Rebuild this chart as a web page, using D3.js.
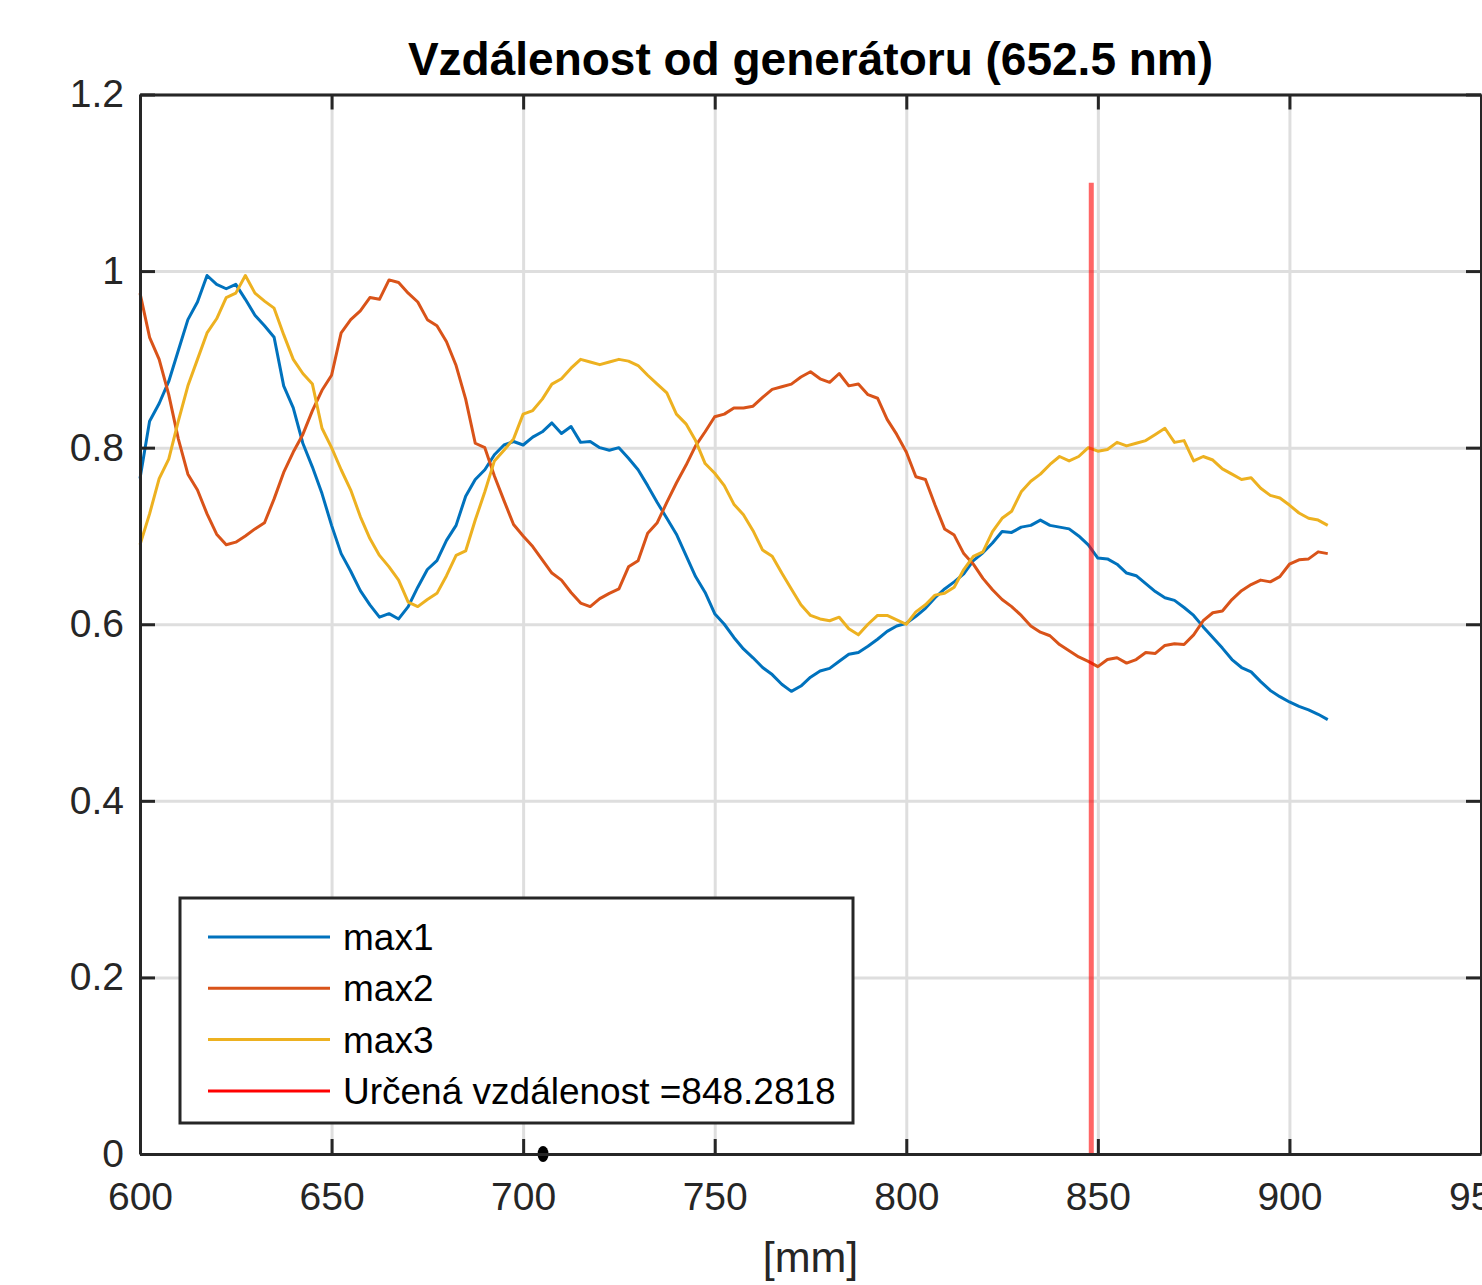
<!DOCTYPE html>
<html>
<head>
<meta charset="utf-8">
<script src="https://cdn.jsdelivr.net/npm/d3@7"></script>
<style>
  html, body { margin: 0; padding: 0; background: #fff; }
  svg { display: block; font-family: "Liberation Sans", Arial, sans-serif; }
</style>
</head>
<body>
<div id="chart"></div>
<script>

// --------------------------------------
//  Data
// --------------------------------------

// distance from the generator [mm], one sample every 2.5 mm
const distance = [
  600, 602.5, 605, 607.5, 610, 612.5, 615, 617.5, 620, 622.5,
  625, 627.5, 630, 632.5, 635, 637.5, 640, 642.5, 645, 647.5,
  650, 652.5, 655, 657.5, 660, 662.5, 665, 667.5, 670, 672.5,
  675, 677.5, 680, 682.5, 685, 687.5, 690, 692.5, 695, 697.5,
  700, 702.5, 705, 707.5, 710, 712.5, 715, 717.5, 720, 722.5,
  725, 727.5, 730, 732.5, 735, 737.5, 740, 742.5, 745, 747.5,
  750, 752.5, 755, 757.5, 760, 762.5, 765, 767.5, 770, 772.5,
  775, 777.5, 780, 782.5, 785, 787.5, 790, 792.5, 795, 797.5,
  800, 802.5, 805, 807.5, 810, 812.5, 815, 817.5, 820, 822.5,
  825, 827.5, 830, 832.5, 835, 837.5, 840, 842.5, 845, 847.5,
  850, 852.5, 855, 857.5, 860, 862.5, 865, 867.5, 870, 872.5,
  875, 877.5, 880, 882.5, 885, 887.5, 890, 892.5, 895, 897.5,
  900, 902.5, 905, 907.5, 910
];

const max1 = [
  0.765, 0.83, 0.85, 0.875, 0.91, 0.945, 0.965, 0.995, 0.985, 0.98,
  0.985, 0.968, 0.95, 0.938, 0.925, 0.87, 0.845, 0.805, 0.778, 0.748,
  0.712, 0.68, 0.66, 0.638, 0.622, 0.608, 0.612, 0.606, 0.62, 0.642,
  0.662, 0.672, 0.695, 0.712, 0.745, 0.764, 0.775, 0.792, 0.803, 0.807,
  0.803, 0.812, 0.818, 0.828, 0.816, 0.824, 0.806, 0.807, 0.8, 0.797,
  0.8, 0.788, 0.775, 0.757, 0.738, 0.72, 0.702, 0.678, 0.654, 0.636,
  0.612, 0.6, 0.585, 0.572, 0.562, 0.551, 0.543, 0.532, 0.524, 0.53,
  0.54, 0.547, 0.55, 0.558, 0.566, 0.568, 0.575, 0.583, 0.592, 0.598,
  0.601, 0.609, 0.618, 0.63, 0.64, 0.648, 0.657, 0.672, 0.681, 0.692,
  0.705, 0.704, 0.71, 0.712, 0.718, 0.712, 0.71, 0.708, 0.7, 0.69,
  0.675, 0.674, 0.668, 0.658, 0.655, 0.646, 0.637, 0.63, 0.627, 0.619,
  0.61, 0.597, 0.585, 0.573, 0.56, 0.551, 0.546, 0.535, 0.525, 0.518,
  0.512, 0.507, 0.503, 0.498, 0.492
];

const max2 = [
  0.975, 0.925, 0.9, 0.86, 0.81, 0.77, 0.752, 0.725, 0.702, 0.69,
  0.693, 0.7, 0.708, 0.715, 0.742, 0.772, 0.795, 0.815, 0.842, 0.865,
  0.882, 0.93, 0.945, 0.955, 0.97, 0.968, 0.99, 0.987, 0.975, 0.965,
  0.945, 0.938, 0.92, 0.893, 0.855, 0.805, 0.8, 0.768, 0.74, 0.713,
  0.7, 0.688, 0.673, 0.658, 0.65, 0.636, 0.624, 0.62, 0.629, 0.635,
  0.64, 0.665, 0.672, 0.703, 0.715, 0.738, 0.76, 0.78, 0.802, 0.818,
  0.835, 0.838, 0.845, 0.845, 0.847, 0.857, 0.866, 0.869, 0.872, 0.88,
  0.886, 0.878, 0.874, 0.884, 0.87, 0.872, 0.86, 0.856, 0.832, 0.815,
  0.795, 0.767, 0.764, 0.735, 0.708, 0.701, 0.68, 0.668, 0.652, 0.639,
  0.628, 0.62, 0.61, 0.598, 0.591, 0.587, 0.577, 0.57, 0.563, 0.558,
  0.552, 0.56, 0.562, 0.556, 0.56, 0.568, 0.567, 0.576, 0.578, 0.577,
  0.588, 0.604, 0.613, 0.615, 0.628, 0.638, 0.645, 0.65, 0.648, 0.654,
  0.668, 0.673, 0.674, 0.682, 0.68
];

const max3 = [
  0.69, 0.725, 0.765, 0.787, 0.83, 0.87, 0.9, 0.93, 0.946, 0.97,
  0.975, 0.995, 0.975, 0.966, 0.958, 0.928, 0.9, 0.884, 0.872, 0.822,
  0.8, 0.775, 0.752, 0.722, 0.697, 0.678, 0.665, 0.65, 0.625, 0.62,
  0.628, 0.635, 0.655, 0.678, 0.683, 0.718, 0.75, 0.785, 0.797, 0.81,
  0.838, 0.842, 0.855, 0.872, 0.878, 0.89, 0.9, 0.897, 0.894, 0.897,
  0.9, 0.898, 0.893, 0.882, 0.872, 0.862, 0.838, 0.827, 0.808, 0.782,
  0.771, 0.757, 0.736, 0.724, 0.706, 0.684, 0.677, 0.658, 0.64, 0.622,
  0.61, 0.606, 0.604, 0.608, 0.595, 0.588, 0.6, 0.61, 0.61, 0.605,
  0.6, 0.614, 0.622, 0.633, 0.635, 0.642, 0.662, 0.677, 0.682, 0.705,
  0.72, 0.728, 0.75, 0.762, 0.77, 0.781, 0.79, 0.785, 0.79, 0.8,
  0.796, 0.798, 0.806, 0.802, 0.805, 0.808, 0.815, 0.822, 0.806, 0.808,
  0.785, 0.79, 0.786, 0.776, 0.77, 0.764, 0.766, 0.754, 0.746, 0.743,
  0.735, 0.726, 0.72, 0.718, 0.712
];

// determined distance (red vertical line) and its height
const foundDistance = 848.2818;
const foundLine = [0, 1.1];

// the small black marker sitting on the x axis
const markerX = [705.2];
const markerY = [0];

const seriesNames = ["max1", "max2", "max3"];
const seriesValues = [max1, max2, max3];
const seriesColors = ["#0072BD", "#D95319", "#EDB120"];

const xTicks = [600, 650, 700, 750, 800, 850, 900, 950];
const yTicks = [0, 0.2, 0.4, 0.6, 0.8, 1, 1.2];

const legendLabels = ["max1", "max2", "max3", "Určená vzdálenost =" + foundDistance];
const legendColors = ["#0072BD", "#D95319", "#EDB120", "#FF0000"];

// --------------------------------------
//  Margin and canvas
// --------------------------------------

const margin = {top: 94.5, right: 1, bottom: 131, left: 140};
const width = 1482;
const height = 1285;
const innerWidth = width - margin.left - margin.right;
const innerHeight = height - margin.top - margin.bottom;

const axisColor = "#262626";

const svg = d3.select("#chart")
  .append("svg")
    .attr("width", width)
    .attr("height", height)
    .attr("viewBox", `0, 0, ${width}, ${height}`);

svg.append("rect")
    .attr("width", width)
    .attr("height", height)
    .attr("fill", "#fff");

const innerChart = svg
  .append("g")
    .attr("transform", `translate(${margin.left}, ${margin.top})`);

// --------------------------------------
//  Scales
// --------------------------------------

const x = d3.scaleLinear()
    .domain([600, 950])
    .range([0, innerWidth]);

const y = d3.scaleLinear()
    .domain([0, 1.2])
    .range([innerHeight, 0]);

// --------------------------------------
//  Grid
// --------------------------------------

innerChart.append("g")
    .attr("class", "grid-x")
    .attr("transform", `translate(0, ${innerHeight})`)
    .call(d3.axisBottom(x).tickValues(xTicks).tickSize(-innerHeight).tickFormat(""))
    .call(g => g.select(".domain").remove())
    .call(g => g.selectAll("text").remove())
    .selectAll("line")
      .attr("stroke", "#dedede")
      .attr("stroke-width", 3);

innerChart.append("g")
    .attr("class", "grid-y")
    .call(d3.axisLeft(y).tickValues(yTicks).tickSize(-innerWidth).tickFormat(""))
    .call(g => g.select(".domain").remove())
    .call(g => g.selectAll("text").remove())
    .selectAll("line")
      .attr("stroke", "#dedede")
      .attr("stroke-width", 3);

// --------------------------------------
//  Data drawing
// --------------------------------------

const line = d3.line()
    .x(d => x(d[0]))
    .y(d => y(d[1]));

innerChart.append("g")
  .selectAll("path")
  .data(seriesValues)
  .join("path")
    .attr("d", values => line(values.map((v, i) => [distance[i], v])))
    .attr("fill", "none")
    .attr("stroke", (d, i) => seriesColors[i])
    .attr("stroke-width", 3)
    .attr("stroke-linejoin", "round");

// red vertical line
innerChart.append("line")
    .attr("x1", x(foundDistance))
    .attr("x2", x(foundDistance))
    .attr("y1", y(foundLine[0]))
    .attr("y2", y(foundLine[1]))
    .attr("stroke", "#FF0000")
    .attr("stroke-opacity", 0.6)
    .attr("stroke-width", 5);

// black marker
innerChart.append("g")
  .selectAll("ellipse")
  .data(markerX)
  .join("ellipse")
    .attr("cx", d => x(d))
    .attr("cy", (d, i) => y(markerY[i]))
    .attr("rx", 5.5)
    .attr("ry", 8)
    .attr("fill", "#000");

// --------------------------------------
//  Axes
// --------------------------------------

function styleAxis(g) {
  g.select(".domain").attr("stroke", axisColor).attr("stroke-width", 3);
  g.selectAll(".tick line").attr("stroke", axisColor).attr("stroke-width", 3);
  g.selectAll(".tick text")
    .attr("fill", axisColor)
    .attr("font-size", 39)
    .attr("font-family", "'Liberation Sans', Arial, sans-serif");
}

innerChart.append("g")
    .attr("class", "x-axis")
    .attr("transform", `translate(0, ${innerHeight})`)
    .call(d3.axisBottom(x)
        .tickValues(xTicks)
        .tickSize(-15)
        .tickSizeOuter(0)
        .tickPadding(28)
        .tickFormat(d => d))
    .call(styleAxis);

innerChart.append("g")
    .attr("class", "x-axis-top")
    .call(d3.axisTop(x)
        .tickValues(xTicks)
        .tickSize(-15)
        .tickSizeOuter(0)
        .tickFormat(""))
    .call(g => g.selectAll("text").remove())
    .call(styleAxis);

innerChart.append("g")
    .attr("class", "y-axis")
    .call(d3.axisLeft(y)
        .tickValues(yTicks)
        .tickSize(-15)
        .tickSizeOuter(0)
        .tickPadding(16)
        .tickFormat(d => d))
    .call(styleAxis);

innerChart.append("g")
    .attr("class", "y-axis-right")
    .attr("transform", `translate(${innerWidth}, 0)`)
    .call(d3.axisRight(y)
        .tickValues(yTicks)
        .tickSize(-15)
        .tickSizeOuter(0)
        .tickFormat(""))
    .call(g => g.selectAll("text").remove())
    .call(styleAxis);

// --------------------------------------
//  Title and axis label
// --------------------------------------

svg.append("text")
    .attr("x", margin.left + innerWidth / 2)
    .attr("y", 75)
    .attr("text-anchor", "middle")
    .attr("font-size", 46)
    .attr("font-weight", "bold")
    .attr("fill", "#000")
    .text("Vzdálenost od generátoru (652.5 nm)");

svg.append("text")
    .attr("x", margin.left + innerWidth / 2)
    .attr("y", 1272)
    .attr("text-anchor", "middle")
    .attr("font-size", 43)
    .attr("fill", axisColor)
    .text("[mm]");

// --------------------------------------
//  Legend
// --------------------------------------

const legend = svg.append("g")
    .attr("class", "legend");

legend.append("rect")
    .attr("x", 180)
    .attr("y", 898)
    .attr("width", 673)
    .attr("height", 225)
    .attr("fill", "#fff")
    .attr("stroke", axisColor)
    .attr("stroke-width", 3);

const legendRows = legend.selectAll(".legend-row")
  .data(legendLabels)
  .join("g")
    .attr("class", "legend-row")
    .attr("transform", (d, i) => `translate(0, ${937 + i * 51.3})`);

legendRows.append("line")
    .attr("x1", 208)
    .attr("x2", 330)
    .attr("stroke", (d, i) => legendColors[i])
    .attr("stroke-width", 3);

legendRows.append("text")
    .attr("x", 343)
    .attr("dy", "0.35em")
    .attr("font-size", 37)
    .attr("fill", "#000")
    .text(d => d);

</script>
</body>
</html>
